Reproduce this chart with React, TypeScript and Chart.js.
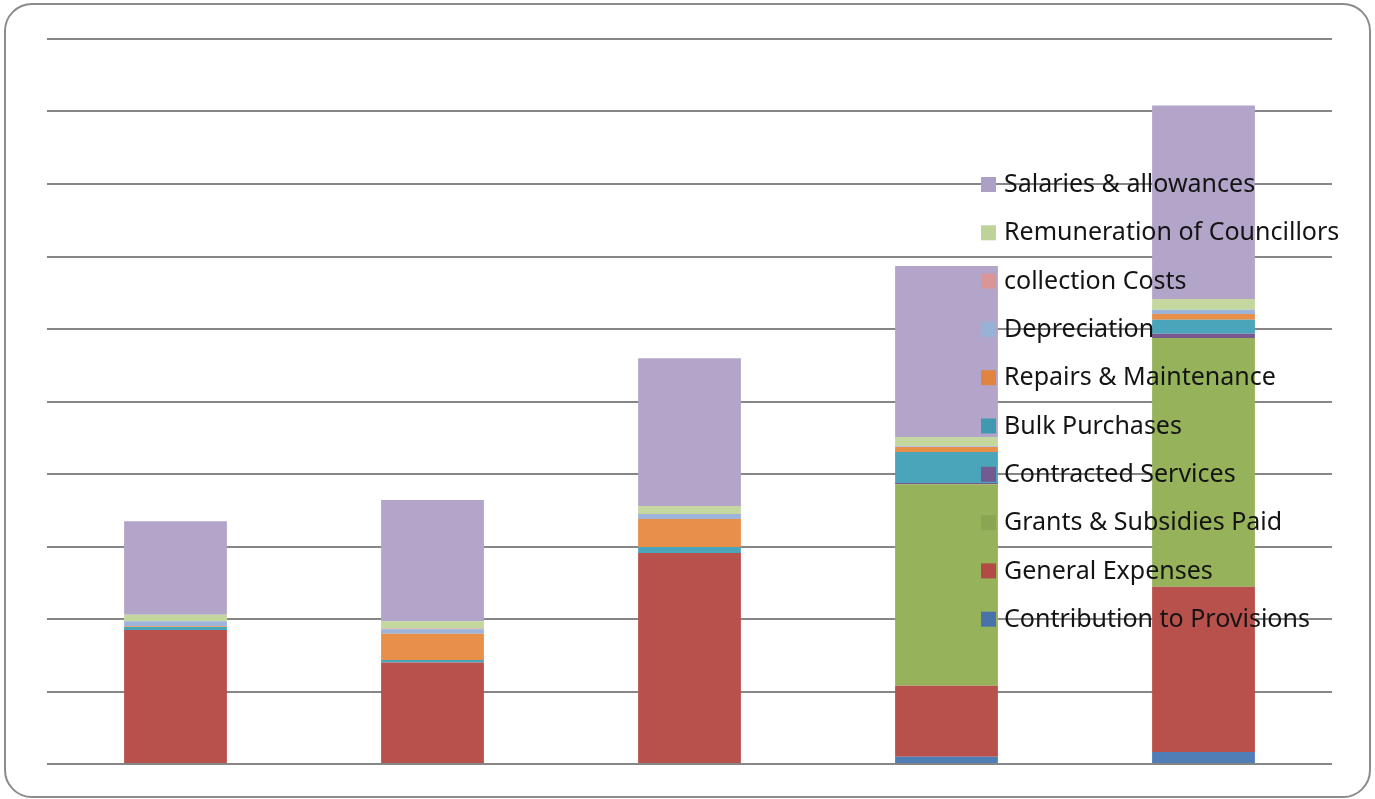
import React, { useEffect, useRef } from "react";
import { Chart, registerables } from "chart.js";

Chart.register(...registerables);

const categories = ["Year 1", "Year 2", "Year 3", "Year 4", "Year 5"];

const contributionToProvisions = [0, 0, 0, 1.0, 1.65];
const generalExpenses = [18.5, 14.0, 29.1, 9.8, 22.8];
const grantsSubsidiesPaid = [0, 0, 0, 27.8, 34.3];
const contractedServices = [0, 0, 0, 0.15, 0.6];
const bulkPurchases = [0.4, 0.35, 0.83, 4.28, 1.93];
const repairsMaintenance = [0.1, 3.6, 3.86, 0.69, 0.78];
const depreciation = [0.7, 0.65, 0.69, 0.1, 0.6];
const collectionCosts = [0, 0.1, 0, 0, 0];
const remunerationCouncillors = [0.9, 1.0, 1.1, 1.28, 1.47];
const salariesAllowances = [12.9, 16.7, 20.4, 23.6, 26.7];

const yMax = 100;
const yStep = 10;

const seriesDefs = [
  { label: "Contribution to Provisions", data: contributionToProvisions, color: "#4F7DB5", marker: "#4A72AA" },
  { label: "General Expenses", data: generalExpenses, color: "#B8514C", marker: "#B24A46" },
  { label: "Grants & Subsidies Paid", data: grantsSubsidiesPaid, color: "#96B25B", marker: "#8BA653" },
  { label: "Contracted Services", data: contractedServices, color: "#77598F", marker: "#735A92" },
  { label: "Bulk Purchases", data: bulkPurchases, color: "#4BA5BA", marker: "#3F99AF" },
  { label: "Repairs & Maintenance", data: repairsMaintenance, color: "#E8904A", marker: "#E0843F" },
  { label: "Depreciation", data: depreciation, color: "#9DB3DA", marker: "#98B2D6" },
  { label: "collection Costs", data: collectionCosts, color: "#D99694", marker: "#D99694" },
  { label: "Remuneration of Councillors", data: remunerationCouncillors, color: "#C3D79F", marker: "#BDD39A" },
  { label: "Salaries & allowances", data: salariesAllowances, color: "#B3A5C9", marker: "#ADA0C6" },
];

const overlayLegend = {
  id: "overlayLegend",
  afterDatasetsDraw(chart: any) {
    const ctx = chart.ctx as CanvasRenderingContext2D;
    const n = seriesDefs.length;
    const x0 = 981;
    const yTop = 184;
    const gap = 48.3;
    ctx.save();
    ctx.font = '25px "Noto Sans"';
    ctx.textBaseline = "middle";
    ctx.textAlign = "left";
    for (let i = n - 1, row = 0; i >= 0; i--, row++) {
      const y = yTop + row * gap;
      ctx.fillStyle = seriesDefs[i].marker;
      ctx.fillRect(x0, y - 7, 15, 15);
      ctx.fillStyle = "#141414";
      ctx.fillText(chart.data.datasets[i].label, x0 + 23, y + 1);
    }
    ctx.restore();
  },
};

export default function App() {
  const ref = useRef<HTMLCanvasElement | null>(null);
  useEffect(() => {
    if (!ref.current) return;
    const chart = new Chart(ref.current, {
      type: "bar",
      data: {
        labels: categories,
        datasets: seriesDefs.map((s) => ({
          label: s.label,
          data: s.data,
          backgroundColor: s.color,
          borderWidth: 0,
          barPercentage: 0.4,
          categoryPercentage: 1,
        })),
      },
      options: {
        animation: false,
        responsive: true,
        maintainAspectRatio: false,
        layout: { padding: { left: 47, right: 43, top: 39, bottom: 35 } },
        plugins: { legend: { display: false }, tooltip: { enabled: false } },
        scales: {
          x: { stacked: true, display: false },
          y: {
            stacked: true,
            min: 0,
            max: yMax,
            ticks: { display: false, stepSize: yStep },
            border: { display: false },
            grid: { color: "#868686", lineWidth: 2, drawTicks: false },
          },
        },
      },
      plugins: [overlayLegend],
    });
    return () => chart.destroy();
  }, []);
  return (
    <div style={{ position: "fixed", left: 0, top: 0, width: 1375, height: 799, background: "#fff" }}>
      <canvas ref={ref} style={{ position: "absolute", left: 0, top: 0 }} />
      <div
        style={{
          position: "absolute",
          left: 4,
          top: 3,
          width: 1367,
          height: 795,
          boxSizing: "border-box",
          border: "2px solid #8c8c8c",
          borderRadius: 28,
          pointerEvents: "none",
        }}
      />
    </div>
  );
}
